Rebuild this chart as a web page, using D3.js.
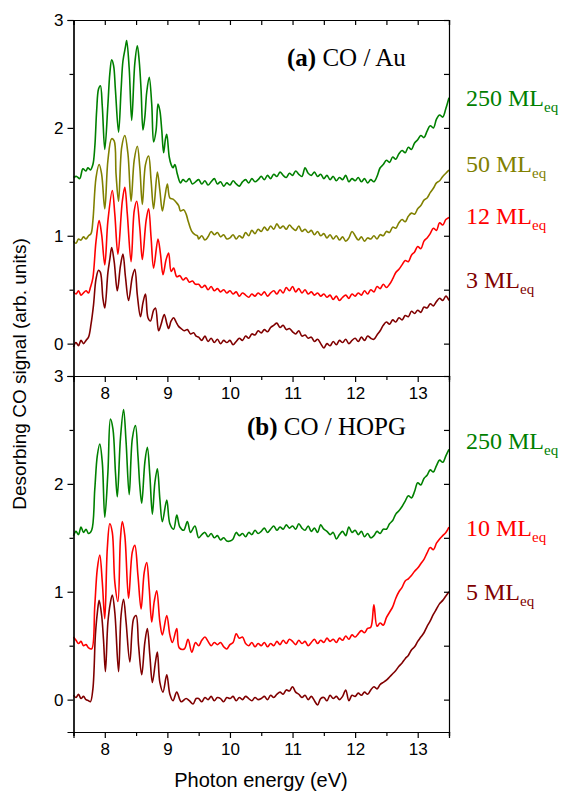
<!DOCTYPE html>
<html>
<head>
<meta charset="utf-8">
<script src="https://cdn.jsdelivr.net/npm/d3@7"></script>
<style>
    body { margin: 0; background: #fff; }
    .axis path, .axis line { stroke: #000; stroke-width: 1.2; }
    .axis text { font-family: "Liberation Sans", Arial, sans-serif; font-size: 17px; fill: #000; }
    .c-line { fill: none; stroke-width: 1.6; stroke-linejoin: round; }
    .lbl { font-family: "Liberation Serif", "Times New Roman", serif; font-size: 24px; }
</style>
</head>
<body>
<div class="c-chart"></div>
<script>
    var width = 569, height = 794;

    // energy ticks
    var xMajor = [8, 9, 10, 11, 12, 13];
    var xMinor = [7.5, 8.5, 9.5, 10.5, 11.5, 12.5, 13.5];
    var yMajor = [0, 1, 2, 3];
    var yMinor = [0.5, 1.5, 2.5];
    var yAll = [0, 0.5, 1, 1.5, 2, 2.5, 3];

    // tail sampling grid, 9.5 .. 13.5 eV
    var tailE = d3.range(81).map(function (i) { return 9.5 + i * 0.05; });

    // (a) CO / Au, 250 ML
    var au250Peaks = [[7.50,1.54],[7.55,1.55],[7.60,1.53],[7.65,1.62],[7.70,1.60],[7.73,1.63],[7.77,1.61],[7.81,1.66],[7.84,1.82],[7.87,2.16],[7.90,2.36],[7.93,2.39],[7.96,2.20],[8.00,1.80],[8.05,2.22],[8.08,2.50],[8.11,2.63],[8.14,2.58],[8.17,2.35],[8.22,1.96],[8.26,2.35],[8.29,2.62],[8.33,2.75],[8.35,2.81],[8.39,2.55],[8.43,2.07],[8.48,2.60],[8.52,2.76],[8.55,2.62],[8.58,2.35],[8.61,1.98],[8.64,2.10],[8.67,2.33],[8.71,2.47],[8.75,2.22],[8.78,1.87],[8.82,1.98],[8.85,2.22],[8.88,2.16],[8.91,1.98],[8.94,1.77],[8.97,1.90],[8.99,1.94],[9.03,1.73],[9.06,1.66],[9.09,1.63],[9.12,1.66],[9.16,1.57],[9.21,1.49],[9.25,1.52],[9.30,1.50],[9.35,1.53],[9.40,1.48],[9.45,1.50]];
    var au250Tail = [1.52,1.48,1.51,1.47,1.50,1.53,1.48,1.50,1.46,1.49,
        1.47,1.51,1.48,1.46,1.50,1.52,1.49,1.53,1.50,1.52,
        1.55,1.52,1.56,1.53,1.57,1.55,1.59,1.56,1.54,1.58,
        1.56,1.60,1.57,1.55,1.63,1.58,1.56,1.59,1.55,1.57,
        1.53,1.56,1.52,1.55,1.51,1.54,1.52,1.56,1.50,1.53,
        1.51,1.54,1.50,1.53,1.49,1.52,1.50,1.55,1.63,1.66,
        1.70,1.68,1.73,1.71,1.76,1.79,1.77,1.82,1.80,1.86,
        1.89,1.93,1.91,1.97,2.02,2.00,2.08,2.12,2.10,2.18,
        2.28];

    // (a) 50 ML
    var au50Peaks = [[7.50,0.95],[7.54,0.93],[7.58,0.97],[7.62,0.96],[7.66,0.99],[7.70,0.97],[7.74,1.00],[7.78,1.02],[7.81,1.14],[7.86,1.54],[7.91,1.66],[7.95,1.57],[8.00,1.25],[8.05,1.70],[8.11,1.90],[8.15,1.88],[8.18,1.57],[8.22,1.32],[8.27,1.82],[8.32,1.93],[8.37,1.76],[8.42,1.32],[8.47,1.70],[8.52,1.83],[8.56,1.63],[8.60,1.29],[8.65,1.66],[8.70,1.74],[8.74,1.51],[8.78,1.25],[8.84,1.59],[8.88,1.42],[8.92,1.23],[8.96,1.36],[9.00,1.48],[9.04,1.35],[9.09,1.34],[9.14,1.31],[9.18,1.28],[9.21,1.23],[9.26,1.24],[9.30,1.20],[9.33,1.14],[9.39,1.04],[9.44,1.01],[9.48,1.00]];
    var au50Tail = [0.97,1.00,0.96,0.99,1.04,1.01,1.03,0.99,1.01,0.97,
        0.98,1.01,0.97,1.00,0.98,1.03,1.00,1.05,1.02,1.06,
        1.04,1.08,1.05,1.09,1.06,1.11,1.07,1.09,1.06,1.10,
        1.07,1.05,1.09,1.04,1.06,1.03,1.05,1.01,1.04,1.00,
        1.02,0.98,1.01,0.97,1.00,0.96,0.99,0.95,0.98,1.04,
        1.00,0.96,0.99,0.95,0.98,0.97,1.00,0.97,1.01,1.00,
        1.04,1.03,1.08,1.07,1.12,1.15,1.13,1.18,1.21,1.20,
        1.25,1.28,1.33,1.35,1.40,1.44,1.49,1.51,1.55,1.58,
        1.61];

    // (a) 12 ML
    var au12Peaks = [[7.50,0.48],[7.54,0.46],[7.58,0.49],[7.62,0.45],[7.66,0.47],[7.70,0.49],[7.74,0.47],[7.77,0.52],[7.81,0.61],[7.86,0.95],[7.91,1.14],[7.95,1.01],[8.00,0.73],[8.05,1.14],[8.12,1.42],[8.16,1.20],[8.21,0.83],[8.28,1.32],[8.32,1.45],[8.36,1.20],[8.42,0.76],[8.47,1.23],[8.51,1.32],[8.56,1.07],[8.60,0.78],[8.66,1.14],[8.70,1.25],[8.74,0.98],[8.78,0.70],[8.85,0.97],[8.89,0.83],[8.93,0.64],[8.98,0.78],[9.02,0.84],[9.06,0.67],[9.10,0.70],[9.15,0.62],[9.20,0.63],[9.25,0.59],[9.30,0.61],[9.35,0.57],[9.40,0.58],[9.45,0.55]];
    var au12Tail = [0.55,0.52,0.54,0.50,0.53,0.49,0.51,0.48,0.50,0.47,
        0.49,0.46,0.48,0.44,0.47,0.45,0.43,0.46,0.44,0.47,
        0.45,0.48,0.44,0.47,0.49,0.46,0.50,0.47,0.52,0.49,
        0.53,0.48,0.51,0.47,0.50,0.46,0.48,0.45,0.47,0.44,
        0.46,0.43,0.45,0.41,0.44,0.40,0.43,0.45,0.42,0.46,
        0.44,0.47,0.45,0.49,0.46,0.50,0.48,0.53,0.51,0.55,
        0.52,0.55,0.60,0.66,0.69,0.73,0.77,0.76,0.82,0.85,
        0.90,0.88,0.95,0.98,1.02,1.07,1.05,1.12,1.10,1.15,
        1.17];

    // (a) 3 ML
    var au3Peaks = [[7.50,-0.03],[7.54,0.01],[7.58,-0.02],[7.62,0.03],[7.66,0.00],[7.70,0.03],[7.74,0.06],[7.78,0.18],[7.82,0.36],[7.86,0.60],[7.90,0.68],[7.93,0.66],[7.97,0.42],[8.00,0.33],[8.05,0.66],[8.08,0.78],[8.11,0.89],[8.15,0.76],[8.20,0.49],[8.25,0.72],[8.29,0.83],[8.33,0.62],[8.38,0.40],[8.44,0.62],[8.48,0.69],[8.52,0.45],[8.57,0.25],[8.61,0.38],[8.65,0.46],[8.69,0.24],[8.73,0.21],[8.78,0.31],[8.81,0.33],[8.86,0.12],[8.90,0.18],[8.95,0.27],[8.99,0.19],[9.02,0.14],[9.06,0.21],[9.10,0.24],[9.14,0.20],[9.18,0.16],[9.22,0.14],[9.27,0.12],[9.32,0.13],[9.37,0.09],[9.42,0.10],[9.46,0.07]];
    var au3Tail = [0.06,0.03,0.07,0.02,0.05,0.01,0.04,0.00,0.03,0.01,
        0.03,-0.01,0.02,0.05,0.03,0.07,0.05,0.09,0.08,0.12,
        0.10,0.13,0.11,0.15,0.17,0.19,0.15,0.17,0.13,0.14,
        0.11,0.09,0.12,0.07,0.08,0.05,0.06,0.02,0.04,0.00,
        -0.04,0.00,-0.02,0.02,-0.01,0.03,0.01,0.04,0.00,0.03,
        0.05,0.02,0.06,0.03,0.07,0.05,0.04,0.08,0.12,0.17,
        0.20,0.18,0.22,0.20,0.24,0.22,0.26,0.25,0.30,0.28,
        0.31,0.29,0.34,0.33,0.37,0.35,0.39,0.42,0.40,0.44,
        0.40];

    // (b) CO / HOPG, 250 ML
    var hopg250Peaks = [[7.50,1.52],[7.54,1.56],[7.58,1.53],[7.62,1.60],[7.66,1.55],[7.70,1.58],[7.74,1.54],[7.79,1.57],[7.84,1.95],[7.88,2.26],[7.92,2.37],[7.96,2.20],[8.00,1.69],[8.05,2.11],[8.09,2.60],[8.13,2.51],[8.17,2.11],[8.20,1.88],[8.25,2.42],[8.30,2.69],[8.34,2.39],[8.39,1.90],[8.44,2.42],[8.49,2.54],[8.53,2.26],[8.56,1.98],[8.59,1.82],[8.64,2.20],[8.68,2.34],[8.72,2.08],[8.76,1.72],[8.80,2.01],[8.84,2.14],[8.88,1.86],[8.92,1.65],[8.99,1.85],[9.04,1.63],[9.10,1.58],[9.15,1.71],[9.20,1.60],[9.26,1.57],[9.32,1.65],[9.37,1.55],[9.44,1.61]];
    var hopg250Tail = [1.50,1.53,1.55,1.51,1.54,1.50,1.52,1.48,1.50,1.47,
        1.47,1.49,1.55,1.52,1.54,1.51,1.55,1.53,1.57,1.54,
        1.56,1.59,1.55,1.58,1.61,1.57,1.60,1.58,1.62,1.59,
        1.61,1.58,1.63,1.59,1.57,1.61,1.56,1.59,1.55,1.62,
        1.58,1.56,1.53,1.55,1.49,1.53,1.56,1.52,1.60,1.55,
        1.57,1.53,1.56,1.51,1.54,1.50,1.52,1.56,1.54,1.58,
        1.58,1.63,1.66,1.72,1.75,1.79,1.84,1.89,1.87,1.93,
        2.01,1.99,2.05,2.08,2.13,2.11,2.17,2.22,2.20,2.26,
        2.32];

    // (b) 10 ML
    var hopg10Peaks = [[7.50,0.58],[7.54,0.55],[7.58,0.52],[7.62,0.54],[7.66,0.50],[7.70,0.51],[7.74,0.48],[7.79,0.47],[7.84,0.87],[7.88,1.21],[7.92,1.34],[7.96,1.09],[8.00,0.75],[8.04,1.40],[8.08,1.63],[8.12,1.55],[8.16,1.09],[8.21,0.91],[8.25,1.49],[8.28,1.65],[8.32,1.52],[8.38,0.94],[8.44,1.37],[8.48,1.43],[8.53,1.15],[8.58,0.84],[8.63,1.18],[8.67,1.27],[8.71,1.03],[8.75,0.72],[8.79,0.91],[8.83,1.01],[8.88,0.72],[8.92,0.60],[8.99,0.78],[9.04,0.60],[9.08,0.53],[9.15,0.66],[9.19,0.48],[9.27,0.47],[9.33,0.56],[9.39,0.44],[9.45,0.53]];
    var hopg10Tail = [0.50,0.55,0.58,0.54,0.50,0.53,0.51,0.53,0.49,0.47,
        0.51,0.53,0.61,0.57,0.58,0.52,0.50,0.53,0.49,0.52,
        0.50,0.53,0.49,0.52,0.50,0.54,0.51,0.55,0.52,0.56,
        0.54,0.51,0.55,0.52,0.54,0.50,0.53,0.56,0.52,0.55,
        0.53,0.57,0.54,0.56,0.53,0.57,0.55,0.59,0.56,0.60,
        0.58,0.61,0.64,0.62,0.66,0.67,0.88,0.68,0.71,0.69,
        0.76,0.81,0.86,0.94,1.00,1.04,1.10,1.12,1.15,1.19,
        1.22,1.26,1.30,1.36,1.41,1.39,1.45,1.49,1.52,1.55,
        1.60];

    // (b) 5 ML
    var hopg5Peaks = [[7.50,0.04],[7.54,0.02],[7.58,0.05],[7.62,0.01],[7.66,0.03],[7.70,0.00],[7.74,-0.01],[7.77,-0.02],[7.81,0.10],[7.85,0.60],[7.88,0.80],[7.91,0.92],[7.95,0.78],[7.98,0.55],[8.01,0.26],[8.05,0.72],[8.09,0.90],[8.12,0.97],[8.16,0.81],[8.22,0.26],[8.26,0.78],[8.30,0.93],[8.34,0.72],[8.40,0.35],[8.46,0.75],[8.50,0.78],[8.54,0.50],[8.59,0.23],[8.64,0.53],[8.68,0.66],[8.72,0.41],[8.76,0.16],[8.81,0.35],[8.84,0.44],[8.88,0.16],[8.93,0.07],[8.99,0.23],[9.04,0.05],[9.09,-0.01],[9.15,0.07],[9.22,-0.02],[9.30,0.01],[9.35,-0.01],[9.41,-0.04],[9.46,0.01]];
    var hopg5Tail = [0.01,-0.02,0.02,0.00,0.03,-0.01,0.02,0.01,-0.02,0.02,
        0.01,0.03,-0.01,0.02,0.00,0.03,0.01,-0.01,0.02,0.00,
        0.01,0.03,0.00,0.04,0.02,0.05,0.07,0.05,0.09,0.08,
        0.12,0.07,0.05,0.02,0.04,0.00,0.03,-0.01,-0.05,0.01,
        0.02,-0.01,0.04,0.01,0.03,0.00,0.03,0.09,-0.01,0.04,
        0.03,0.06,0.04,0.07,0.05,0.09,0.12,0.10,0.14,0.16,
        0.18,0.21,0.24,0.27,0.31,0.34,0.38,0.41,0.46,0.49,
        0.54,0.58,0.62,0.68,0.73,0.79,0.84,0.89,0.92,0.96,
        1.00];

    function join(peaks, tail) {
        return peaks.concat(tail.map(function (v, i) { return [tailE[i], v]; }));
    }

    var panels = [
        {
            top: 20, bottom: 376, title: "(a)", sub: " CO / Au", tx: 287, ty: 66,
            series: [
                { data: join(au250Peaks, au250Tail), color: "#008000", label: "250", ly: 106 },
                { data: join(au50Peaks, au50Tail), color: "#808000", label: "50", ly: 172 },
                { data: join(au12Peaks, au12Tail), color: "#ff0000", label: "12", ly: 224 },
                { data: join(au3Peaks, au3Tail), color: "#800000", label: "3", ly: 288 }
            ]
        },
        {
            top: 376, bottom: 732, title: "(b)", sub: " CO / HOPG", tx: 247, ty: 435,
            series: [
                { data: join(hopg250Peaks, hopg250Tail), color: "#008000", label: "250", ly: 449 },
                { data: join(hopg10Peaks, hopg10Tail), color: "#ff0000", label: "10", ly: 536 },
                { data: join(hopg5Peaks, hopg5Tail), color: "#800000", label: "5", ly: 600 }
            ]
        }
    ];

    var xScale = d3.scaleLinear().domain([7.5, 13.5]).range([73.5, 449]);

    var svg = d3.select(".c-chart")
                .append("svg")
                .attr("width", width)
                .attr("height", height);

    panels.forEach(function (p) {

        var yScale = d3.scaleLinear().domain([-0.3, 3]).range([p.bottom, p.top]);

        var line = d3.line()
                    .x(function (d) { return xScale(d[0]); })
                    .y(function (d) { return yScale(d[1]); })
                    .curve(d3.curveCatmullRom.alpha(0.5));

        var g = svg.append("g");

        p.series.forEach(function (s) {
            g.append("path")
                .datum(s.data)
                .attr("class", "c-line")
                .attr("stroke", s.color)
                .attr("d", line);

            var t = g.append("text")
                .attr("class", "lbl")
                .attr("x", 466)
                .attr("y", s.ly)
                .attr("fill", s.color);
            t.append("tspan").text(s.label + " ML");
            t.append("tspan").attr("dy", 6).style("font-size", "15px").text("eq");
        });

        // frame: left, right, top
        g.append("g").attr("class", "axis")
            .attr("transform", "translate(73.5,0)")
            .call(d3.axisLeft(yScale).tickValues(yMajor).tickSize(6).tickPadding(4).tickFormat(d3.format("d")));
        g.append("g").attr("class", "axis")
            .attr("transform", "translate(73.5,0)")
            .call(d3.axisLeft(yScale).tickValues(yMinor).tickSize(4).tickFormat(""));
        g.append("g").attr("class", "axis")
            .attr("transform", "translate(449,0)")
            .call(d3.axisLeft(yScale).tickValues(yAll).tickSize(5).tickFormat(""));
        g.append("g").attr("class", "axis")
            .attr("transform", "translate(0," + p.top + ")")
            .call(d3.axisBottom(xScale).tickValues(xMajor.concat(xMinor)).tickSize(p.top === 20 ? 5 : 0).tickFormat(""));

        // bottom axis with labels
        g.append("g").attr("class", "axis")
            .attr("transform", "translate(0," + p.bottom + ")")
            .call(d3.axisBottom(xScale).tickValues(xMajor).tickSize(6).tickPadding(5).tickFormat(d3.format("d")));
        g.append("g").attr("class", "axis")
            .attr("transform", "translate(0," + p.bottom + ")")
            .call(d3.axisBottom(xScale).tickValues(xMinor).tickSize(4).tickFormat(""));

        var title = g.append("text")
            .attr("class", "lbl")
            .attr("x", p.tx)
            .attr("y", p.ty)
            .style("font-size", "25px")
            .attr("fill", "#000");
        title.append("tspan").style("font-weight", "bold").text(p.title);
        title.append("tspan").text(p.sub);
    });

    svg.selectAll(".axis .domain").attr("stroke-width", 1.3);

    svg.append("text")
        .attr("x", 261)
        .attr("y", 787)
        .attr("text-anchor", "middle")
        .style("font-family", "'Liberation Sans', Arial, sans-serif")
        .style("font-size", "20px")
        .text("Photon energy (eV)");

    svg.append("text")
        .attr("transform", "translate(26,374) rotate(-90)")
        .attr("text-anchor", "middle")
        .style("font-family", "'Liberation Sans', Arial, sans-serif")
        .style("font-size", "19px")
        .text("Desorbing CO signal (arb. units)");
</script>
</body>
</html>
